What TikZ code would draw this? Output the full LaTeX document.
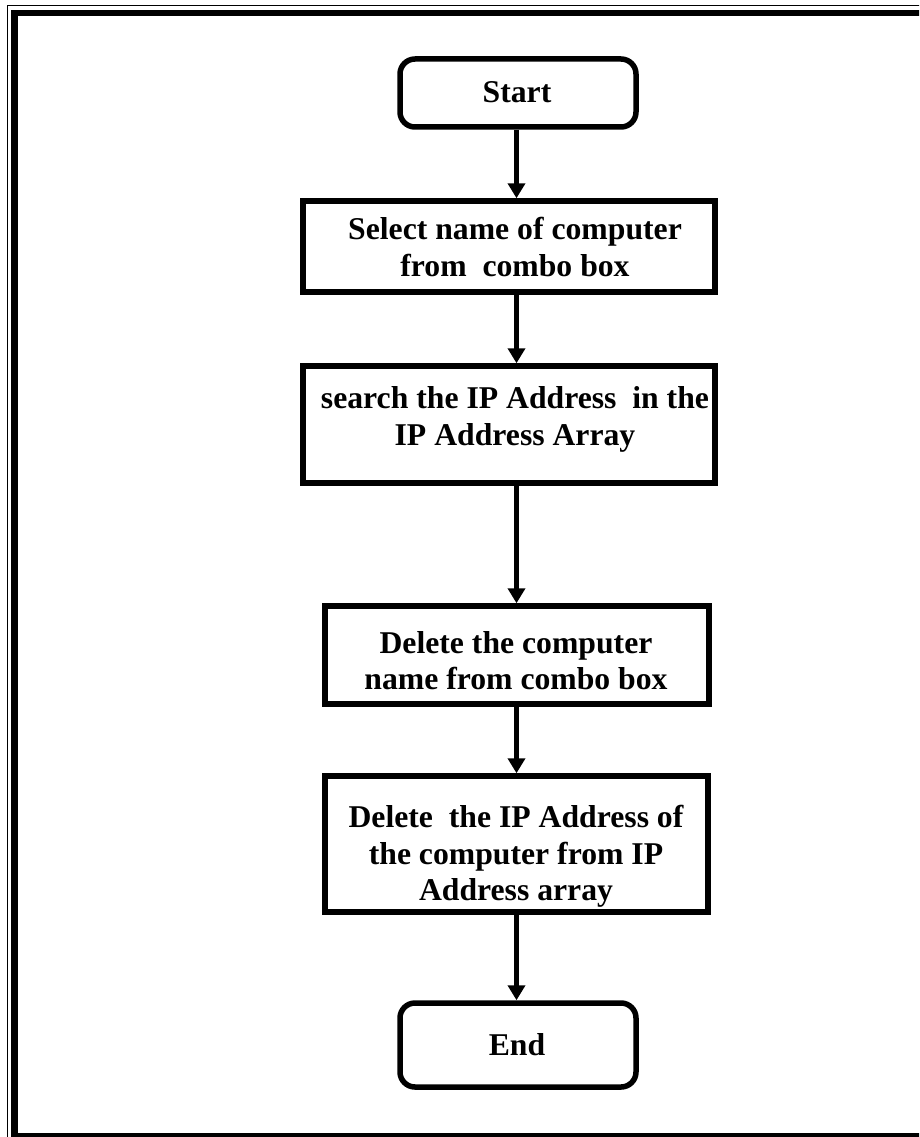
\documentclass[tikz,border=0pt]{standalone}
\usepackage{fontspec}
\setmainfont{Liberation Serif}
\usetikzlibrary{arrows.meta}
\begin{document}
\begin{tikzpicture}[x=1pt,y=-1pt,
  box/.style={draw=black,line width=5.5pt,inner sep=0pt,fill=white},
  term/.style={box,rounded corners=15pt},
  lbl/.style={inner sep=0pt,align=center,font=\fontsize{31.7}{36.5}\selectfont\bfseries},
  arr/.style={line width=5.5pt,-{Triangle[width=17pt,length=15pt]}}]
\useasboundingbox (0,0) rectangle (919,1137);
\clip (0,0) rectangle (919,1137);
\fill[white] (0,0) rectangle (919,1137);
% page frame: thin outer rule and heavy inner rule
\draw[line width=1.5pt] (7.5,5.5) rectangle (940,1160);
\draw[line width=6.5pt] (14.5,13) rectangle (935,1136);
% flow boxes
\node[term,minimum width=236pt,minimum height=68pt] (st) at (518,93) {};
\node[box,minimum width=412pt,minimum height=91pt]  (b1) at (509,246.5) {};
\node[box,minimum width=412pt,minimum height=117pt] (b2) at (509,424.5) {};
\node[box,minimum width=384pt,minimum height=98pt]  (b3) at (517,655) {};
\node[box,minimum width=383pt,minimum height=136pt] (b4) at (516.5,844) {};
\node[term,minimum width=236pt,minimum height=84pt] (end) at (518,1045) {};
% texts
\node[lbl] (t0) at (517,92.5) {Start};
\node[lbl] (t1) at (515,246.8) {Select name of computer\\from\ \ combo box};
\node[lbl] (t2) at (515,419.3) {search the IP Address\ \ in the\\IP Address Array};
\node[lbl] (t3) at (516,660.8) {Delete the computer\\name from combo box};
\node[lbl] (t4) at (516,856.3) {Delete\ \ the IP Address of\\the computer from IP\\Address array};
\node[lbl] (t5) at (517,1045) {End};
% connectors
\coordinate (ax) at (516.5,0);
\draw[arr] (st.south -| ax) -- (b1.north -| ax);
\draw[arr] (b1.south -| ax) -- (b2.north -| ax);
\draw[arr] (b2.south -| ax) -- (b3.north -| ax);
\draw[arr] (b3.south -| ax) -- (b4.north -| ax);
\draw[arr] (b4.south -| ax) -- (end.north -| ax);
\end{tikzpicture}
\end{document}
